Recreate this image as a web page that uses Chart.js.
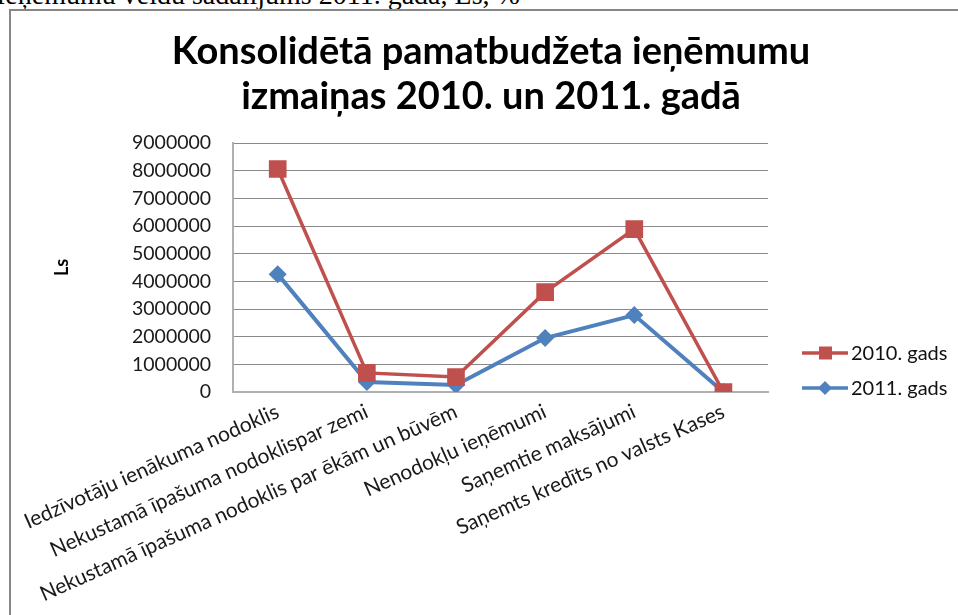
<!DOCTYPE html>
<html><head><meta charset="utf-8">
<script src="https://cdn.jsdelivr.net/npm/chart.js@4.4.0/dist/chart.umd.min.js"></script>
<style>
html,body{margin:0;padding:0;background:#fff;overflow:hidden;width:958px;height:615px;}
#cap{position:absolute;left:-4px;top:-19px;font-family:"Liberation Serif","Times New Roman",serif;font-size:28px;line-height:28px;white-space:nowrap;color:#000;}
#box{position:absolute;left:9px;top:9px;width:1000px;height:700px;border:2px solid #878787;box-sizing:border-box;}
#wrap{position:absolute;left:0;top:0;width:958px;height:615px;}
</style></head><body>
<div id="cap">Ieņēmumu veidu sadalījums 2011. gadā, Ls, %</div>
<div id="box"></div>
<div id="wrap"><canvas id="c" width="958" height="615"></canvas></div>
<script>
const categories = [
  'Iedzīvotāju ienākuma nodoklis',
  'Nekustamā īpašuma nodoklispar zemi',
  'Nekustamā īpašuma nodoklis par ēkām un būvēm',
  'Nenodokļu ieņēmumi',
  'Saņemtie maksājumi',
  'Saņemts kredīts no valsts Kases'
];
const values2010 = [8060000, 690000, 540000, 3610000, 5890000, 0];
const values2011 = [4260000, 360000, 250000, 1950000, 2780000, 0];
const seriesNames = ['2010. gads', '2011. gads'];
const yTicks = [0, 1000000, 2000000, 3000000, 4000000, 5000000, 6000000, 7000000, 8000000, 9000000];
const titleLines = ['Konsolidētā pamatbudžeta ieņēmumu', 'izmaiņas 2010. un 2011. gadā'];
const yAxisTitle = 'Ls';

const RED = '#C0504D', BLUE = '#4F81BD';
const FONT = 'Lato, "Open Sans", sans-serif';

const overlay = {
  id: 'overlay',
  afterDraw(chart) {
    const ctx = chart.ctx;
    ctx.save();
    ctx.fillStyle = '#000';
    ctx.font = 'bold 38px ' + FONT;
    ctx.textAlign = 'center';
    ctx.textBaseline = 'alphabetic';
    ctx.fillText(titleLines[0], 491, 64);
    ctx.fillText(titleLines[1], 491, 109);
    const items = [
      {name: seriesNames[0], color: RED, style: 'rect', y: 353},
      {name: seriesNames[1], color: BLUE, style: 'diamond', y: 388}
    ];
    items.forEach(it => {
      ctx.strokeStyle = it.color;
      ctx.lineWidth = 3.5;
      ctx.beginPath(); ctx.moveTo(802, it.y); ctx.lineTo(848, it.y); ctx.stroke();
      ctx.fillStyle = it.color;
      ctx.beginPath();
      if (it.style === 'rect') { ctx.rect(819, it.y - 6.5, 13, 13); }
      else { ctx.moveTo(825, it.y - 7); ctx.lineTo(832, it.y); ctx.lineTo(825, it.y + 7); ctx.lineTo(818, it.y); ctx.closePath(); }
      ctx.fill();
      ctx.fillStyle = '#111';
      ctx.font = '20px ' + FONT;
      ctx.textAlign = 'left';
      ctx.textBaseline = 'middle';
      ctx.fillText(it.name, 851, it.y + 1);
    });
    ctx.restore();
  }
};

new Chart(document.getElementById('c'), {
  type: 'line',
  data: {
    labels: categories,
    datasets: [
      { label: seriesNames[0], data: values2010, borderColor: RED, backgroundColor: RED,
        borderWidth: 3.5, pointStyle: 'rect', pointRadius: 12.5, pointBorderWidth: 0,
        pointBackgroundColor: RED, tension: 0 },
      { label: seriesNames[1], data: values2011, borderColor: BLUE, backgroundColor: BLUE,
        borderWidth: 4, pointStyle: 'rectRot', pointRadius: 9, pointBorderWidth: 0,
        pointBackgroundColor: BLUE, tension: 0 }
    ]
  },
  options: {
    responsive: false,
    animation: false,
    devicePixelRatio: 1,
    layout: { padding: { left: 0, top: 143, right: 190, bottom: 0 } },
    plugins: { legend: { display: false }, title: { display: false }, tooltip: { enabled: false } },
    scales: {
      x: {
        offset: true,
        afterFit(s) { s.height = 223; },
        grid: { display: true, drawOnChartArea: false, drawTicks: false, color: 'rgba(0,0,0,0)' },
        border: { display: true, color: '#b0b0b0', width: 2 },
        ticks: { autoSkip: false, minRotation: 24, maxRotation: 24, padding: 7,
          font: { family: FONT, size: 21 }, color: '#1a1a1a' }
      },
      y: {
        min: 0, max: 9000000,
        afterFit(s) { s.width = 222; },
        afterBuildTicks(s) { s.ticks = yTicks.map(v => ({ value: v })); },
        grid: { color: '#8a8a8a', lineWidth: 1, drawTicks: false },
        border: { display: true, color: '#b0b0b0', width: 2 },
        ticks: { padding: 22, font: { family: FONT, size: 19.5 }, color: '#1a1a1a',
          callback: v => String(v) },
        title: { display: true, text: yAxisTitle, font: { family: FONT, size: 18, weight: 'bold' },
          color: '#000', padding: { top: 40, bottom: 0 } }
      }
    }
  },
  plugins: [overlay]
});
</script>
</body></html>
